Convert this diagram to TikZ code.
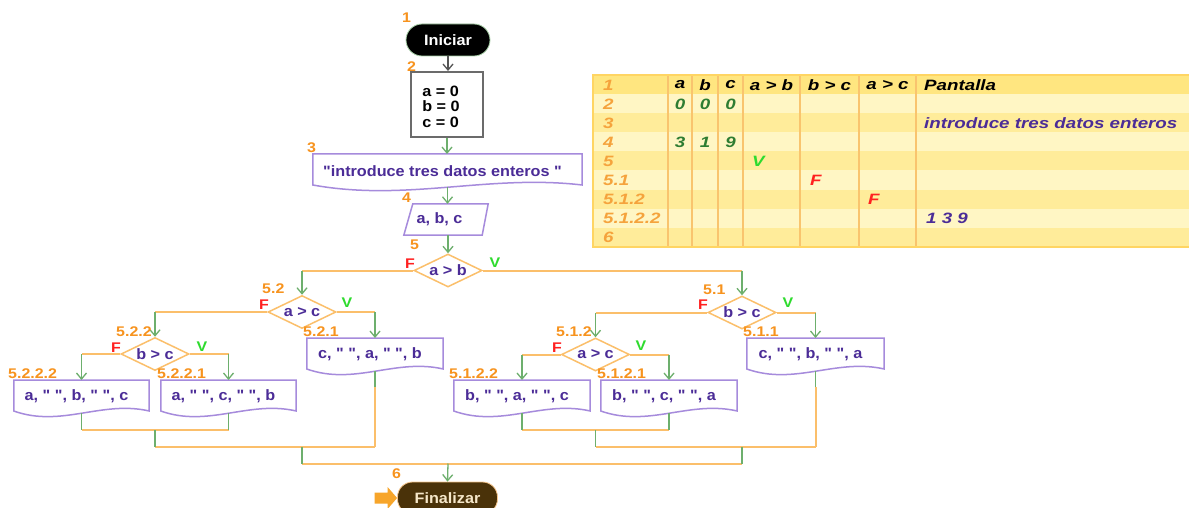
\documentclass[tikz,border=0pt]{standalone}
\usepackage{fontspec}
\setmainfont{Liberation Sans}
\newfontfamily\ffont{Liberation Sans}[FakeStretch=1.08]
\newfontfamily\lfont{Liberation Sans}[FakeStretch=1.14]
\newfontfamily\tfont{Liberation Sans}[FakeStretch=1.25]
\usetikzlibrary{arrows.meta,shapes.geometric,calc}
\definecolor{lblc}{HTML}{F7931E}
\definecolor{tlbl}{HTML}{F5A33C}
\definecolor{ptxt}{HTML}{4B2C97}
\definecolor{pbord}{HTML}{A68BDC}
\definecolor{oline}{HTML}{FBBF6B}
\definecolor{gline}{HTML}{6DAF6D}
\definecolor{vgreen}{HTML}{2EDB2E}
\definecolor{fred}{HTML}{FF2020}
\definecolor{dgreen}{HTML}{2E7D32}
\definecolor{thead}{HTML}{FFE680}
\definecolor{tlight}{HTML}{FFF6C4}
\definecolor{tmed}{HTML}{FFEC9A}
\definecolor{tgrid}{HTML}{F9C46E}
\definecolor{tborder}{HTML}{FFD563}
\definecolor{fbrown}{HTML}{4A3209}
\definecolor{fcream}{HTML}{F6E7C9}
\definecolor{oarrow}{HTML}{F7A52A}
\definecolor{boxgray}{HTML}{6B6B6B}
\definecolor{arrgray}{HTML}{555555}
\newcommand\docshape[1]{%
  \draw[draw=pbord, line width=1.5pt] (#1.north west) -- (#1.north east) -- ($(#1.north east)+(0,31)$)
    .. controls ($(#1.north west)!0.65!(#1.north east)+(0,20)$) and ($(#1.north west)!0.35!(#1.north east)+(0,48)$) .. ($(#1.north west)+(0,31)$) -- cycle;}
\newcommand\brnch[2]{%
  \draw[oseg] (#1) -- (#1 -| #2.north);
  \draw[garr] (#1 -| #2.north) -- (#2.north);}
\begin{document}
\begin{tikzpicture}[x=1pt,y=-1pt,
  ftext/.style={font={\ffont\bfseries\fontsize{15}{15.5}\selectfont}, text=ptxt, inner sep=0pt},
  lab/.style={font={\lfont\bfseries\fontsize{14}{15}\selectfont}, text=lblc, inner sep=0pt, anchor=west},
  fv/.style={font={\lfont\bfseries\fontsize{14}{15}\selectfont}, inner sep=0pt},
  diam/.style={diamond, draw=oline, line width=1.5pt, fill=white, minimum width=68pt, minimum height=33pt, inner sep=0pt},
  outn/.style={rectangle, minimum height=33pt, inner sep=0pt, anchor=north, ftext, execute at begin node={\hspace*{-10pt}}},
  garr/.style={draw=gline, line width=1.3pt, -{Straight Barb[length=6pt,width=10pt]}},
  gseg/.style={draw=gline, line width=1.5pt},
  oseg/.style={draw=oline, line width=2pt},
  tcell/.style={font={\tfont\bfseries\itshape\fontsize{15}{16}\selectfont}, inner sep=0pt}
]
\fill[white] (0,0) rectangle (1189,508);
\useasboundingbox (0,0) rectangle (1189,508);

% ---------- table ----------
\fill[thead] (592.5,75.5) rectangle (1191,94.5);
\foreach \i in {1,3,5,7} \fill[tlight] (592.5,{75.5+19*\i}) rectangle (1191,{94.5+19*\i});
\foreach \i in {2,4,6,8} \fill[tmed] (592.5,{75.5+19*\i}) rectangle (1191,{94.5+19*\i});
\foreach \x in {668,692,718,743,800,859,916} \draw[tgrid, line width=2pt] (\x,75.5) -- (\x,246.5);
\draw[tborder, line width=2pt] (592.5,75.5) rectangle (1192,246.5);
\foreach \lab [count=\i from 0] in {1,2,3,4,5,5.1,5.1.2,5.1.2.2,6}
  \node[tcell, text=tlbl, anchor=west] (tr\i) at (603,{85+19*\i}) {\lab};
\node[tcell] (tha) at (680,85) {a};
\node[tcell] (thb) at (705,85) {b};
\node[tcell] (thc) at (730.5,85) {c};
\node[tcell] (thab) at (771.5,85) {a > b};
\node[tcell] (thbc) at (829.5,85) {b > c};
\node[tcell] (thac) at (887.5,85) {a > c};
\node[tcell, anchor=west] (thp) at (924,85) {Pantalla};
\node[tcell, text=dgreen] (v2a) at (680,104) {0};
\node[tcell, text=dgreen] (v2b) at (705,104) {0};
\node[tcell, text=dgreen] (v2c) at (730.5,104) {0};
\node[tcell, text=ptxt, anchor=west] (v3p) at (924,123) {introduce tres datos enteros};
\node[tcell, text=dgreen] (v4a) at (680,142) {3};
\node[tcell, text=dgreen] (v4b) at (705,142) {1};
\node[tcell, text=dgreen] (v4c) at (730.5,142) {9};
\node[tcell, text=vgreen, anchor=west] (v5) at (752,161) {V};
\node[tcell, text=fred, anchor=west] (v51) at (810,180) {F};
\node[tcell, text=fred, anchor=west] (v512) at (868,199) {F};
\node[tcell, text=ptxt, anchor=west] (v5122) at (926,218) {1 3 9};

% ---------- flowchart nodes ----------
\node[fill=black, draw=gline!60, line width=0.8pt, rounded corners=16pt, minimum width=84pt, minimum height=32pt, ftext, text=white] (ini) at (448,40) {Iniciar};
\node[draw=boxgray, line width=2pt, minimum width=72pt, minimum height=65pt, inner sep=0pt] (b2) at (447,104.5) {};
\node[font={\ffont\bfseries\fontsize{15}{15.5}\selectfont}, text=black, align=left, inner sep=0pt] (b2t) at (441,106.5) {a = 0\\b = 0\\c = 0};
\node[outn, minimum width=269pt] (o3) at (447.5,154) {"introduce tres datos enteros "};
\node[ftext, minimum width=84pt, minimum height=31pt] (inp) at (446,219.5) {\hspace*{-13pt}a, b, c};
\node[diam] (d5) at (448,270.5) {};
\node[diam] (d52) at (302,312) {};
\node[diam] (d51) at (742,312.5) {};
\node[diam] (d522) at (155,354) {};
\node[diam] (d512) at (595.5,354.5) {};
\node[ftext] (d5t) at (d5) {a > b};
\node[ftext] (d52t) at (d52) {a > c};
\node[ftext] (d51t) at (d51) {b > c};
\node[ftext] (d522t) at (d522) {b > c};
\node[ftext] (d512t) at (d512) {a > c};
\node[outn, minimum width=136pt] (o521) at (375,338) {c, " ", a, " ", b};
\node[outn, minimum width=135pt] (o5222) at (81.5,380) {a, " ", b, " ", c};
\node[outn, minimum width=135pt] (o5221) at (228.5,380) {a, " ", c, " ", b};
\node[outn, minimum width=137pt] (o511) at (815.5,338) {c, " ", b, " ", a};
\node[outn, minimum width=136pt] (o5122) at (522,380) {b, " ", a, " ", c};
\node[outn, minimum width=136pt] (o5121) at (669,380) {b, " ", c, " ", a};
\node[fill=fbrown, draw=fcream!70!orange, line width=0.8pt, rounded corners=15pt, minimum width=100pt, minimum height=32pt, ftext, text=fcream] (fin) at (447.5,498) {Finalizar};

% shapes
\docshape{o3}
\docshape{o521}
\docshape{o5222}
\docshape{o5221}
\docshape{o511}
\docshape{o5122}
\docshape{o5121}
\draw[draw=pbord, line width=1.5pt] ($(inp.north west)+(9,0)$) -- (inp.north east) -- ($(inp.south east)+(-6,0)$) -- (inp.south west) -- cycle;
\fill[oarrow] ($(fin.west)+(-22.5,-5.5)$) -- ($(fin.west)+(-9.5,-5.5)$) -- ($(fin.west)+(-9.5,-11)$) -- (fin.west) -- ($(fin.west)+(-9.5,11)$) -- ($(fin.west)+(-9.5,5.5)$) -- ($(fin.west)+(-22.5,5.5)$) -- cycle;

% ---------- connectors ----------
\draw[garr, draw=arrgray] (ini.south) -- (ini.south |- b2.north);
\draw[garr] (b2.south) -- (b2.south |- o3.north);
\draw[garr] (o3.south) -- (o3.south |- inp.north);
\draw[garr] (d5.north |- inp.south) -- (d5.north);
\brnch{d5.west}{d52}
\brnch{d5.east}{d51}
\brnch{d52.west}{d522}
\brnch{d52.east}{o521}
\brnch{d522.west}{o5222}
\brnch{d522.east}{o5221}
\brnch{d51.west}{d512}
\brnch{d51.east}{o511}
\brnch{d512.west}{o5122}
\brnch{d512.east}{o5121}

\coordinate (m522) at (155,430);
\coordinate (m512) at (595.5,430);
\coordinate (m52) at (302,447);
\coordinate (m51) at (742,447);
\coordinate (m5) at (448,463.5);
\coordinate (g52) at (375,387);
\coordinate (g51) at (815.5,387);
% horizontals
\draw[oseg] (o5222.south |- m522) -- (o5221.south |- m522);
\draw[oseg] (o5122.south |- m512) -- (o5121.south |- m512);
\draw[oseg] (m522 |- m52) -- (o521.south |- m52);
\draw[oseg] (m512 |- m51) -- (o511.south |- m51);
\draw[oseg] (m52 |- m5) -- (m51 |- m5);
\draw[oseg] (g52) -- (o521.south |- m52);
\draw[oseg] (g51) -- (o511.south |- m51);
% verticals
\draw[gseg] (o5222.south) -- (o5222.south |- m522);
\draw[gseg] (o5221.south) -- (o5221.south |- m522);
\draw[gseg] (o5122.south) -- (o5122.south |- m512);
\draw[gseg] (o5121.south) -- (o5121.south |- m512);
\draw[gseg] (o521.south) -- (g52);
\draw[gseg] (o511.south) -- (g51);
\draw[gseg] (m522) -- (m522 |- m52);
\draw[gseg] (m512) -- (m512 |- m51);
\draw[gseg] (m52) -- (m52 |- m5);
\draw[gseg] (m51) -- (m51 |- m5);
\draw[garr] (m5) -- (fin.north);

% ---------- labels ----------
\node[lab] (n1) at (402,18) {1};
\node[lab] (n2) at (407,67) {2};
\node[lab] (n3) at (307,148) {3};
\node[lab] (n4) at (402,198) {4};
\node[lab] (n5) at (410,245) {5};
\node[lab] (n52) at (262,289) {5.2};
\node[lab] (n51) at (703,290) {5.1};
\node[lab] (n521) at (303,332) {5.2.1};
\node[lab] (n522) at (116,332) {5.2.2};
\node[lab] (n5222) at (8,374) {5.2.2.2};
\node[lab] (n5221) at (157,374) {5.2.2.1};
\node[lab] (n511) at (743,332) {5.1.1};
\node[lab] (n512) at (556,332) {5.1.2};
\node[lab] (n5122) at (449,374) {5.1.2.2};
\node[lab] (n5121) at (597,374) {5.1.2.1};
\node[lab] (n6) at (392,474) {6};
\node[fv, text=fred] (f5) at (410,264) {F};
\node[fv, text=vgreen] (vv5) at (495,263) {V};
\node[fv, text=fred] (f52) at (264,305) {F};
\node[fv, text=vgreen] (vv52) at (347,303) {V};
\node[fv, text=fred] (f522) at (116,348) {F};
\node[fv, text=vgreen] (vv522) at (202,347) {V};
\node[fv, text=fred] (f51) at (703,305) {F};
\node[fv, text=vgreen] (vv51) at (788,303) {V};
\node[fv, text=fred] (f512) at (557,348) {F};
\node[fv, text=vgreen] (vv512) at (641,346) {V};
\end{tikzpicture}
\end{document}
